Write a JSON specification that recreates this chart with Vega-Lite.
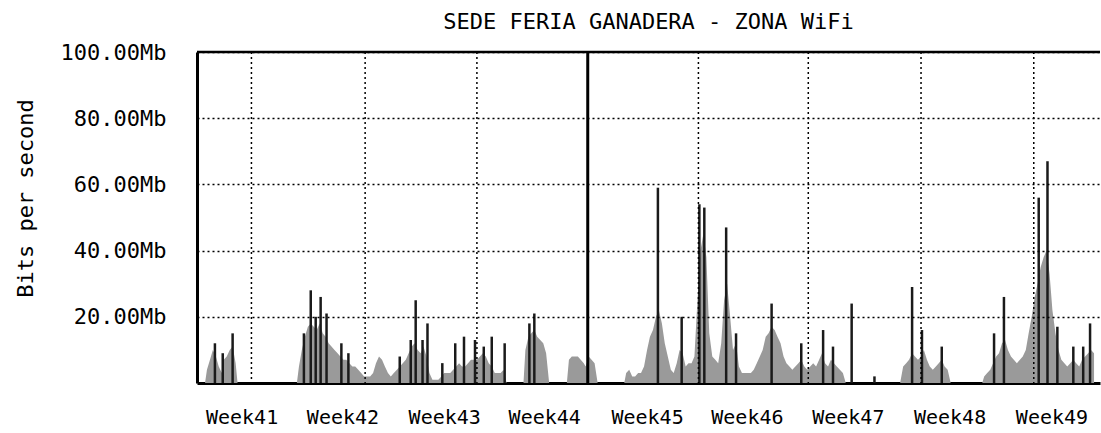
{
  "$schema": "https://vega.github.io/schema/vega-lite/v6.json",
  "autosize": {"type": "none"},
  "padding": {"left": 197, "top": 52, "right": 1, "bottom": 50},
  "width": 903,
  "height": 331,
  "background": "white",
  "title": {"text": "SEDE FERIA GANADERA - ZONA WiFi", "font": "DejaVu Sans Mono", "fontSize": 22, "fontWeight": "normal", "color": "black", "anchor": "middle", "baseline": "bottom", "offset": -15},
  "config": {"view": {"stroke": null}},
  "datasets": {
    "avg": [
      {"day":0.19,"mb":0},{"day":0.31,"mb":4},{"day":0.50,"mb":7},{"day":0.68,"mb":10},{"day":0.87,"mb":8},{"day":1.05,"mb":5},{"day":1.24,"mb":3},{"day":1.36,"mb":7},{"day":1.55,"mb":8},{"day":1.74,"mb":10},{"day":1.92,"mb":11},{"day":2.11,"mb":6},{"day":2.23,"mb":0},
      {"day":5.95,"mb":0},{"day":6.08,"mb":5},{"day":6.26,"mb":10},{"day":6.45,"mb":14},{"day":6.64,"mb":17},{"day":6.82,"mb":18},{"day":7.01,"mb":17},{"day":7.19,"mb":16},{"day":7.38,"mb":18},{"day":7.57,"mb":15},{"day":7.75,"mb":14},{"day":7.94,"mb":12},{"day":8.12,"mb":11},{"day":8.31,"mb":10},{"day":8.50,"mb":9},{"day":8.68,"mb":8},{"day":8.87,"mb":7},{"day":9.05,"mb":7},{"day":9.24,"mb":6},{"day":9.43,"mb":5},{"day":9.61,"mb":5},{"day":9.80,"mb":4},{"day":9.98,"mb":3},{"day":10.17,"mb":2},{"day":10.36,"mb":2},{"day":10.54,"mb":2},{"day":10.73,"mb":3},{"day":10.91,"mb":6},{"day":11.10,"mb":8},{"day":11.29,"mb":7},{"day":11.47,"mb":5},{"day":11.66,"mb":3},{"day":11.84,"mb":2},{"day":12.03,"mb":3},{"day":12.22,"mb":4},{"day":12.40,"mb":5},{"day":12.59,"mb":6},{"day":12.78,"mb":7},{"day":12.96,"mb":9},{"day":13.15,"mb":11},{"day":13.33,"mb":12},{"day":13.52,"mb":10},{"day":13.71,"mb":9},{"day":13.89,"mb":11},{"day":14.08,"mb":8},{"day":14.26,"mb":3},{"day":14.45,"mb":1},{"day":14.64,"mb":1},{"day":14.82,"mb":1},{"day":15.01,"mb":2},{"day":15.19,"mb":3},{"day":15.38,"mb":3},{"day":15.57,"mb":3},{"day":15.75,"mb":4},{"day":15.94,"mb":5},{"day":16.12,"mb":6},{"day":16.31,"mb":5},{"day":16.50,"mb":5},{"day":16.68,"mb":6},{"day":16.87,"mb":7},{"day":17.05,"mb":7},{"day":17.24,"mb":7},{"day":17.43,"mb":8},{"day":17.61,"mb":9},{"day":17.80,"mb":8},{"day":17.98,"mb":6},{"day":18.17,"mb":5},{"day":18.36,"mb":3},{"day":18.54,"mb":3},{"day":18.73,"mb":3},{"day":18.91,"mb":4},{"day":19.10,"mb":0},
      {"day":20.16,"mb":0},{"day":20.28,"mb":10},{"day":20.47,"mb":14},{"day":20.65,"mb":15},{"day":20.84,"mb":16},{"day":21.02,"mb":14},{"day":21.21,"mb":13},{"day":21.40,"mb":12},{"day":21.58,"mb":9},{"day":21.77,"mb":0},
      {"day":22.88,"mb":0},{"day":23.01,"mb":7},{"day":23.19,"mb":8},{"day":23.38,"mb":8},{"day":23.57,"mb":8},{"day":23.75,"mb":7},{"day":23.94,"mb":6},{"day":24.06,"mb":5},{"day":24.25,"mb":8},{"day":24.43,"mb":7},{"day":24.62,"mb":6},{"day":24.81,"mb":0},
      {"day":26.48,"mb":0},{"day":26.60,"mb":3},{"day":26.79,"mb":4},{"day":26.98,"mb":2},{"day":27.16,"mb":2},{"day":27.35,"mb":3},{"day":27.53,"mb":3},{"day":27.72,"mb":5},{"day":27.91,"mb":10},{"day":28.09,"mb":14},{"day":28.28,"mb":16},{"day":28.47,"mb":20},{"day":28.65,"mb":22},{"day":28.84,"mb":18},{"day":29.02,"mb":12},{"day":29.21,"mb":8},{"day":29.40,"mb":4},{"day":29.58,"mb":3},{"day":29.77,"mb":6},{"day":29.95,"mb":10},{"day":30.14,"mb":9},{"day":30.33,"mb":5},{"day":30.51,"mb":6},{"day":30.70,"mb":6},{"day":30.88,"mb":8},{"day":31.07,"mb":25},{"day":31.26,"mb":40},{"day":31.44,"mb":45},{"day":31.63,"mb":38},{"day":31.81,"mb":15},{"day":32.00,"mb":8},{"day":32.19,"mb":7},{"day":32.37,"mb":6},{"day":32.56,"mb":12},{"day":32.74,"mb":25},{"day":32.93,"mb":30},{"day":33.12,"mb":20},{"day":33.30,"mb":10},{"day":33.49,"mb":12},{"day":33.67,"mb":5},{"day":33.86,"mb":3},{"day":34.05,"mb":3},{"day":34.23,"mb":3},{"day":34.42,"mb":3},{"day":34.60,"mb":4},{"day":34.79,"mb":6},{"day":34.98,"mb":8},{"day":35.16,"mb":10},{"day":35.35,"mb":14},{"day":35.53,"mb":15},{"day":35.72,"mb":17},{"day":35.91,"mb":16},{"day":36.09,"mb":14},{"day":36.28,"mb":12},{"day":36.47,"mb":8},{"day":36.65,"mb":6},{"day":36.84,"mb":5},{"day":37.02,"mb":4},{"day":37.21,"mb":5},{"day":37.40,"mb":6},{"day":37.58,"mb":7},{"day":37.77,"mb":5},{"day":37.95,"mb":4},{"day":38.14,"mb":5},{"day":38.33,"mb":6},{"day":38.51,"mb":5},{"day":38.70,"mb":7},{"day":38.88,"mb":9},{"day":39.07,"mb":6},{"day":39.26,"mb":5},{"day":39.44,"mb":7},{"day":39.63,"mb":6},{"day":39.81,"mb":5},{"day":40.00,"mb":4},{"day":40.19,"mb":3},{"day":40.37,"mb":0},
      {"day":43.78,"mb":0},{"day":43.97,"mb":5},{"day":44.16,"mb":6},{"day":44.34,"mb":7},{"day":44.53,"mb":9},{"day":44.71,"mb":8},{"day":44.90,"mb":7},{"day":45.09,"mb":8},{"day":45.27,"mb":10},{"day":45.46,"mb":7},{"day":45.64,"mb":5},{"day":45.83,"mb":4},{"day":46.02,"mb":5},{"day":46.20,"mb":6},{"day":46.39,"mb":7},{"day":46.57,"mb":5},{"day":46.76,"mb":4},{"day":46.95,"mb":0},
      {"day":48.93,"mb":0},{"day":49.05,"mb":2},{"day":49.24,"mb":3},{"day":49.43,"mb":4},{"day":49.61,"mb":6},{"day":49.80,"mb":8},{"day":49.98,"mb":9},{"day":50.17,"mb":12},{"day":50.36,"mb":13},{"day":50.54,"mb":10},{"day":50.73,"mb":8},{"day":50.91,"mb":7},{"day":51.10,"mb":6},{"day":51.29,"mb":7},{"day":51.47,"mb":8},{"day":51.66,"mb":10},{"day":51.84,"mb":15},{"day":52.03,"mb":20},{"day":52.22,"mb":26},{"day":52.40,"mb":30},{"day":52.59,"mb":35},{"day":52.78,"mb":38},{"day":52.96,"mb":40},{"day":53.15,"mb":33},{"day":53.33,"mb":22},{"day":53.52,"mb":15},{"day":53.71,"mb":10},{"day":53.89,"mb":7},{"day":54.08,"mb":6},{"day":54.26,"mb":5},{"day":54.45,"mb":6},{"day":54.64,"mb":7},{"day":54.82,"mb":6},{"day":55.01,"mb":5},{"day":55.19,"mb":7},{"day":55.38,"mb":8},{"day":55.57,"mb":9},{"day":55.75,"mb":10},{"day":55.94,"mb":9}
    ],
    "peak": [
      {"day":0.81,"mb":12},{"day":1.30,"mb":9},{"day":1.92,"mb":15},{"day":6.39,"mb":15},{"day":6.82,"mb":28},{"day":7.13,"mb":20},{"day":7.44,"mb":26},{"day":7.81,"mb":21},{"day":8.74,"mb":12},{"day":9.18,"mb":9},{"day":12.40,"mb":8},{"day":13.09,"mb":13},{"day":13.40,"mb":25},{"day":13.83,"mb":13},{"day":14.14,"mb":18},{"day":15.07,"mb":6},{"day":15.88,"mb":12},{"day":16.43,"mb":14},{"day":17.12,"mb":13},{"day":17.67,"mb":11},{"day":18.17,"mb":14},{"day":18.98,"mb":12},{"day":20.53,"mb":18},{"day":20.84,"mb":21},{"day":28.59,"mb":59},{"day":30.08,"mb":20},{"day":31.19,"mb":54},{"day":31.50,"mb":53},{"day":32.87,"mb":47},{"day":33.49,"mb":15},{"day":35.72,"mb":24},{"day":37.58,"mb":12},{"day":38.95,"mb":16},{"day":39.57,"mb":11},{"day":40.74,"mb":24},{"day":42.17,"mb":2},{"day":44.53,"mb":29},{"day":45.15,"mb":16},{"day":46.39,"mb":11},{"day":49.67,"mb":15},{"day":50.29,"mb":26},{"day":52.47,"mb":56},{"day":53.02,"mb":67},{"day":53.64,"mb":17},{"day":54.64,"mb":11},{"day":55.26,"mb":11},{"day":55.69,"mb":18}
    ],
    "grid": [{"day":3.10},{"day":10.23},{"day":17.24},{"day":31.13},{"day":38.02},{"day":45.09},{"day":52.16}],
    "month": [{"day":24.19}],
    "top": [{"mb":100}]
  },
  "layer": [
    {
      "data": {"name": "avg"},
      "mark": {"type": "area", "color": "#9a9a9a", "interpolate": "linear"},
      "encoding": {
        "x": {"field": "day", "type": "quantitative", "scale": {"domain": [0, 56], "nice": false, "zero": false},
          "axis": {"orient": "bottom", "title": null, "grid": false, "ticks": false, "domainColor": "black", "domainWidth": 3,
            "values": [2.48, 8.81, 15.19, 21.46, 27.91, 34.17, 40.5, 46.88, 53.27],
            "labelExpr": "datum.value < 5 ? 'Week41' : datum.value < 12 ? 'Week42' : datum.value < 18 ? 'Week43' : datum.value < 25 ? 'Week44' : datum.value < 31 ? 'Week45' : datum.value < 37 ? 'Week46' : datum.value < 44 ? 'Week47' : datum.value < 50 ? 'Week48' : 'Week49'",
            "labelFont": "DejaVu Sans Mono", "labelFontSize": 20, "labelColor": "black", "labelPadding": 24, "labelFlush": false, "labelOverlap": false}},
        "y": {"field": "mb", "type": "quantitative", "scale": {"domain": [0, 100], "nice": false},
          "axis": {"title": "Bits per second", "titleFont": "DejaVu Sans Mono", "titleFontSize": 22, "titleFontWeight": "normal", "titleColor": "black",
            "titleX": -172, "titleY": 146, "titleAngle": 270, "titleAlign": "center", "titleBaseline": "middle",
            "values": [20, 40, 60, 80, 100], "labelExpr": "format(datum.value, '.2f') + 'Mb'",
            "labelFont": "DejaVu Sans Mono", "labelFontSize": 22, "labelColor": "black", "labelPadding": 31, "labelFlush": false,
            "ticks": false, "domainColor": "black", "domainWidth": 3,
            "grid": true, "gridColor": "black", "gridDash": [2, 3], "gridWidth": 1.5, "gridOpacity": 1, "zindex": 1}}
      }
    },
    {
      "data": {"name": "peak"},
      "mark": {"type": "bar", "color": "#1a1a1a", "size": 2.5},
      "encoding": {
        "x": {"field": "day", "type": "quantitative"},
        "y": {"field": "mb", "type": "quantitative"}
      }
    },
    {
      "data": {"name": "grid"},
      "mark": {"type": "rule", "color": "black", "strokeWidth": 1.5, "strokeDash": [2, 3]},
      "encoding": {
        "x": {"field": "day", "type": "quantitative"}
      }
    },
    {
      "data": {"name": "month"},
      "mark": {"type": "rule", "color": "black", "strokeWidth": 3},
      "encoding": {
        "x": {"field": "day", "type": "quantitative"}
      }
    },
    {
      "data": {"name": "top"},
      "mark": {"type": "rule", "color": "black", "strokeWidth": 2.5},
      "encoding": {
        "y": {"field": "mb", "type": "quantitative"}
      }
    }
  ]
}
